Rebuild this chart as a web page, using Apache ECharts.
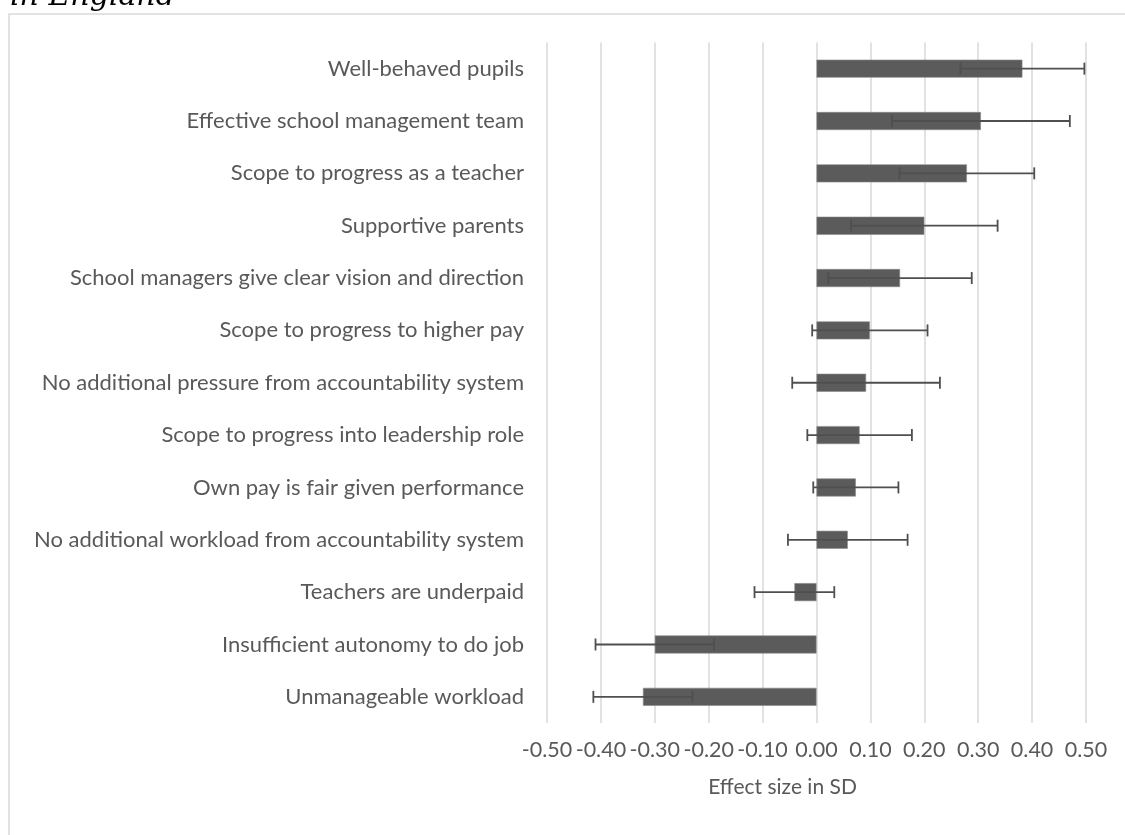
<!DOCTYPE html>
<html>
<head>
<meta charset="utf-8">
<script src="https://cdn.jsdelivr.net/npm/echarts@6/dist/echarts.min.js"></script>
<style>
  html, body { margin: 0; padding: 0; background: #fff; }
  #chart { width: 1125px; height: 835px; }
</style>
</head>
<body>
<div id="chart"></div>
<script>
// Factors associated with teacher job satisfaction, effect sizes with confidence intervals
const categories = [
  'Well-behaved pupils',
  'Effective school management team',
  'Scope to progress as a teacher',
  'Supportive parents',
  'School managers give clear vision and direction',
  'Scope to progress to higher pay',
  'No additional pressure from accountability system',
  'Scope to progress into leadership role',
  'Own pay is fair given performance',
  'No additional workload from accountability system',
  'Teachers are underpaid',
  'Insufficient autonomy to do job',
  'Unmanageable workload'
];
const effectSizes = [0.382, 0.305, 0.279, 0.200, 0.155, 0.099, 0.092, 0.080, 0.073, 0.058, -0.041, -0.300, -0.322];
const errorMargins = [0.115, 0.165, 0.125, 0.136, 0.133, 0.107, 0.137, 0.097, 0.079, 0.111, 0.074, 0.110, 0.092];
const xTicks = [-0.5, -0.4, -0.3, -0.2, -0.1, 0, 0.1, 0.2, 0.3, 0.4, 0.5];

const errorData = effectSizes.map((v, i) => [i, v - errorMargins[i], v + errorMargins[i]]);

const FONT = 'Lato, "Open Sans", sans-serif';
const chart = echarts.init(document.getElementById('chart'), null, { renderer: 'canvas' });

chart.setOption({
  backgroundColor: '#ffffff',
  animation: false,
  graphic: [
    {
      type: 'rect',
      shape: { x: 9, y: 14, width: 1300, height: 1000 },
      style: { fill: 'none', stroke: '#d9d9d9', lineWidth: 1.5 },
      silent: true
    },
    {
      type: 'text',
      x: 10, y: 12,
      style: {
        text: 'in England',
        font: 'italic 30px "DejaVu Serif", "Liberation Serif", serif',
        fill: '#000000',
        verticalAlign: 'bottom'
      },
      silent: true
    }
  ],
  grid: {
    left: 547, right: 39, top: 42.5, bottom: 112,
    outerBoundsMode: 'none'
  },
  xAxis: {
    type: 'value',
    min: xTicks[0],
    max: xTicks[xTicks.length - 1],
    interval: 0.1,
    name: 'Effect size in SD',
    nameLocation: 'middle',
    nameGap: 54,
    nameTextStyle: { color: '#595959', fontSize: 21, fontFamily: FONT, padding: [0, 68, 0, 0] },
    axisLine: { show: false },
    axisTick: { show: false },
    axisLabel: {
      color: '#595959', fontSize: 21.5, fontFamily: FONT, margin: 16,
      formatter: v => v.toFixed(2)
    },
    splitLine: { show: true, lineStyle: { color: '#d9d9d9', width: 1.5 } }
  },
  yAxis: {
    type: 'category',
    data: categories,
    inverse: true,
    axisLine: { show: false },
    axisTick: { show: false },
    axisLabel: { color: '#595959', fontSize: 22, fontFamily: FONT, margin: 23 },
    splitLine: { show: false }
  },
  series: [
    {
      type: 'bar',
      data: effectSizes,
      barWidth: 18,
      itemStyle: { color: '#5b5b5b', borderColor: '#8a8a8a', borderWidth: 0.6 },
      z: 2
    },
    {
      type: 'custom',
      data: errorData,
      encode: { x: [1, 2], y: 0 },
      z: 3,
      renderItem: function (params, api) {
        const idx = api.value(0);
        const lo = api.coord([api.value(1), idx]);
        const hi = api.coord([api.value(2), idx]);
        const half = 6;
        const style = { stroke: '#4f4f4f', lineWidth: 1.8 };
        return {
          type: 'group',
          children: [
            { type: 'line', shape: { x1: lo[0], y1: lo[1], x2: hi[0], y2: hi[1] }, style },
            { type: 'line', shape: { x1: lo[0], y1: lo[1] - half, x2: lo[0], y2: lo[1] + half }, style },
            { type: 'line', shape: { x1: hi[0], y1: hi[1] - half, x2: hi[0], y2: hi[1] + half }, style }
          ]
        };
      }
    }
  ]
});
</script>
</body>
</html>
